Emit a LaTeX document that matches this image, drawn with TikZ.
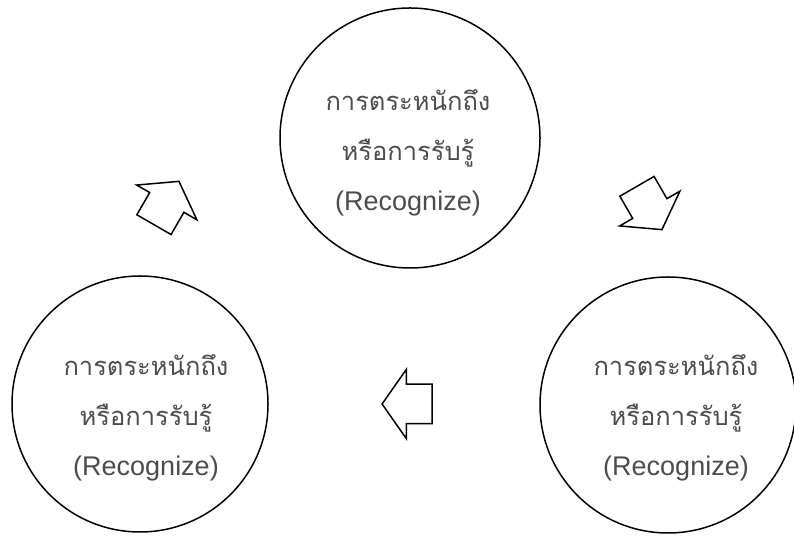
\documentclass[tikz,border=0pt]{standalone}
\usepackage{fontspec}
\setmainfont{Liberation Sans}
\newfontfamily\thaifont[Script=Thai]{Loma}
\usetikzlibrary{shapes.arrows}

\begin{document}
\begin{tikzpicture}[x=1pt, y=1pt,
  % circles of the cycle
  ring/.style={draw, circle, line width=1.5pt, minimum size=#1, inner sep=0pt},
  ringtext/.style={align=center, text=black!70, font=\fontsize{27}{50}\selectfont},
  % hollow block arrows between the circles
  blockarrow/.style={draw, single arrow, line width=1.5pt,
                     inner xsep=0pt, inner ysep=19pt, minimum height=50pt,
                     single arrow head extend=15pt, single arrow tip angle=110,
                     rotate=#1}
]
  \useasboundingbox (0,0) rectangle (794,537);

  % Circles
  \node[ring=260pt] (topring)   at (410,399) {};
  \node[ring=256pt] (leftring)  at (140,133) {};
  \node[ring=256pt] (rightring) at (668,132) {};

  % Texts inside the circles
  \node[ringtext] (toptext)   at (408,384) {{\thaifont\fontsize{25.5}{50}\selectfont การตระหนักถึง}\\{\thaifont\fontsize{25.5}{50}\selectfont หรือการรับรู้}\\(Recognize)};
  \node[ringtext] (lefttext)  at (146,119) {{\thaifont\fontsize{25.5}{50}\selectfont การตระหนักถึง}\\{\thaifont\fontsize{25.5}{50}\selectfont หรือการรับรู้}\\(Recognize)};
  \node[ringtext] (righttext) at (676,119) {{\thaifont\fontsize{25.5}{50}\selectfont การตระหนักถึง}\\{\thaifont\fontsize{25.5}{50}\selectfont หรือการรับรู้}\\(Recognize)};

  % Block arrows (cycle: left -> top -> right -> left)
  \node[blockarrow=60]  (upleft)    at (163,328) {};
  \node[blockarrow=-60] (downright) at (646,335) {};
  \node[blockarrow=180] (backleft)  at (414,133) {};
\end{tikzpicture}
\end{document}
